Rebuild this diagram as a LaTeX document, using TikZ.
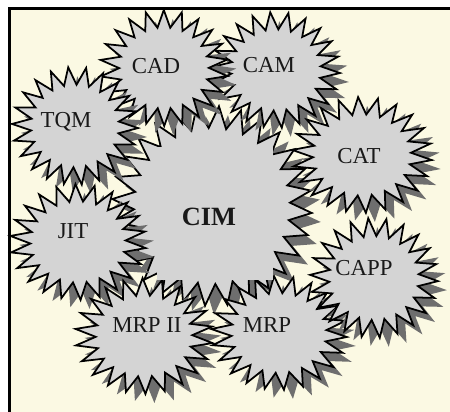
\documentclass[tikz,border=0pt]{standalone}
\usepackage{fontspec}
\setmainfont{Liberation Serif}
\definecolor{paper}{HTML}{FBF9E3}
\definecolor{burstfill}{HTML}{D4D4D4}
\definecolor{burstshade}{HTML}{6E6E6E}
\tikzset{
  burstline/.style={draw=black, line width=1pt, line join=miter, miter limit=10, fill=burstfill},
  burstshadow/.style={fill=burstshade},
  tag/.style={font=\fontsize{13}{15}\selectfont, inner sep=0pt, text=black!90},
  bigtag/.style={font=\fontsize{15}{17}\selectfont\bfseries, inner sep=0pt, text=black!90},
}
% Star polygon with shadow: centre (#1,#2), radii #3 x #4, #5 points,
% start angle #6, inner/outer radius ratio #7
\newcommand\burst[7]{%
  \pgfmathtruncatemacro\burstlast{2*#5-1}%
  \fill[burstshadow, shift={(9,9)}]
    plot[variable=\t, samples at={0,...,\burstlast}]
    ({#1+(mod(\t,2)==0 ? 1 : #7)*#3*cos(#6+\t*180/#5)},
     {#2+(mod(\t,2)==0 ? 1 : #7)*#4*sin(#6+\t*180/#5)}) -- cycle;
  \path[burstline]
    plot[variable=\t, samples at={0,...,\burstlast}]
    ({#1+(mod(\t,2)==0 ? 1 : #7)*#3*cos(#6+\t*180/#5)},
     {#2+(mod(\t,2)==0 ? 1 : #7)*#4*sin(#6+\t*180/#5)}) -- cycle;
}
\begin{document}
\begin{tikzpicture}[x=0.02cm, y=-0.02cm]
  \useasboundingbox (0,0) rectangle (450,412);
  % page and frame
  \fill[white] (0,0) rectangle (450,412);
  \fill[paper] (9.5,8.5) rectangle (450,412);
  \draw[line width=2.2pt, black] (9.5,420) -- (9.5,8.5) -- (460,8.5);

  % central burst
  \burst{212}{206}{100}{100}{28}{4}{0.78}

  % surrounding bursts
  \burst{276}{70}{64}{58}{22}{3}{0.7}
  \burst{164}{68}{64}{58}{22}{8}{0.7}
  \burst{362}{155}{70}{58}{22}{5}{0.7}
  \burst{75}{126}{63}{59}{22}{2}{0.7}
  \burst{78}{242}{68}{58}{22}{6}{0.7}
  \burst{279}{333}{68}{57}{22}{4}{0.7}
  \burst{144}{336}{69}{58}{22}{7}{0.7}
  \burst{374}{278}{64}{60}{22}{3}{0.7}

  % plain centre panel of the CIM burst
  \fill[burstfill] (157,147) rectangle (273,280);

  % labels
  \node[bigtag] (cim)  at (209,217) {CIM};
  \node[tag]    (cad)  at (156,66)  {CAD};
  \node[tag]    (cam)  at (269,65)  {CAM};
  \node[tag]    (tqm)  at (66,122)  {TQM};
  \node[tag]    (cat)  at (359,156) {CAT};
  \node[tag]    (jit)  at (73,231)  {JIT};
  \node[tag]    (capp) at (364,268) {CAPP};
  \node[tag]    (mrp)  at (267,325) {MRP};
  \node[tag]    (mrp2) at (147,325) {MRP II};
\end{tikzpicture}
\end{document}
